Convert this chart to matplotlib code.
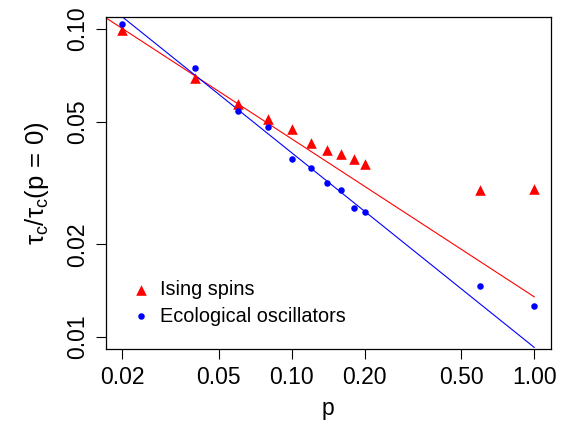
import matplotlib
matplotlib.use('Agg')
import matplotlib.pyplot as plt
import numpy as np

# values
p = [0.02, 0.04, 0.06, 0.08, 0.10, 0.12, 0.14, 0.16, 0.18, 0.20, 0.60, 1.00]
ising = [0.099, 0.0693, 0.0571, 0.0510, 0.0474, 0.0428, 0.0404, 0.0394, 0.0378, 0.0365, 0.0299, 0.0302]
eco = [0.104, 0.0749, 0.0543, 0.0482, 0.0378, 0.0353, 0.0317, 0.0299, 0.0263, 0.0255, 0.0146, 0.0126]

# power-law lines y = amp * p^slope
ising_fit = (0.0135, -0.513)
eco_fit = (0.00925, -0.632)
fit_p = [0.01, 1.0]

xticks = [0.02, 0.05, 0.10, 0.20, 0.50, 1.00]
xlabels = ['0.02', '0.05', '0.10', '0.20', '0.50', '1.00']
yticks = [0.01, 0.02, 0.05, 0.10]
ylabels = ['0.01', '0.02', '0.05', '0.10']

plt.rcParams['font.family'] = ['Liberation Sans', 'DejaVu Sans']
plt.rcParams['mathtext.fontset'] = 'custom'
plt.rcParams['mathtext.rm'] = 'Liberation Sans'
plt.rcParams['mathtext.it'] = 'Liberation Sans'

fig = plt.figure(figsize=(5.61, 4.34), dpi=100)
ax = fig.add_axes([0.1884, 0.1952, 0.7933, 0.7663])

fp = np.array(fit_p)
ax.plot(fp, ising_fit[0] * fp ** ising_fit[1], color='red', lw=0.8)
ax.plot(fp, eco_fit[0] * fp ** eco_fit[1], color='blue', lw=0.8)
ax.scatter(p, ising, marker='^', s=58, color='red', lw=0, label='Ising spins', zorder=3)
ax.scatter(p, eco, marker='o', s=22, color='blue', lw=0, label='Ecological oscillators', zorder=3)

ax.set_xscale('log')
ax.set_yscale('log')
lx = np.log10([0.02, 1.0])
ax.set_xlim(10 ** (lx[0] - 0.04 * (lx[1] - lx[0])), 10 ** (lx[1] + 0.04 * (lx[1] - lx[0])))
ly = np.log10([0.01, 0.1])
ax.set_ylim(10 ** (ly[0] - 0.04 * (ly[1] - ly[0])), 10 ** (ly[1] + 0.04 * (ly[1] - ly[0])))

ax.minorticks_off()
ax.set_xticks(xticks)
ax.set_xticklabels(xlabels)
ax.set_yticks(yticks)
ax.set_yticklabels(ylabels, rotation=90, va='center')
ax.tick_params(direction='out', length=7, width=0.8, labelsize=16.5, pad=5)

for s in ax.spines.values():
    s.set_linewidth(0.9)

ax.set_xlabel('p', fontsize=16.5, labelpad=6)
ax.set_ylabel(r'$\tau_c/\tau_c(p\,=\,0)$', fontsize=18.5, labelpad=11)

ax.legend(loc='lower left', bbox_to_anchor=(0.057, 0.071), frameon=False,
          fontsize=14.3, handlelength=1.0, handletextpad=0.46, labelspacing=0.38,
          borderpad=0, borderaxespad=0, scatterpoints=1)

fig.savefig('out.png', dpi=100)
